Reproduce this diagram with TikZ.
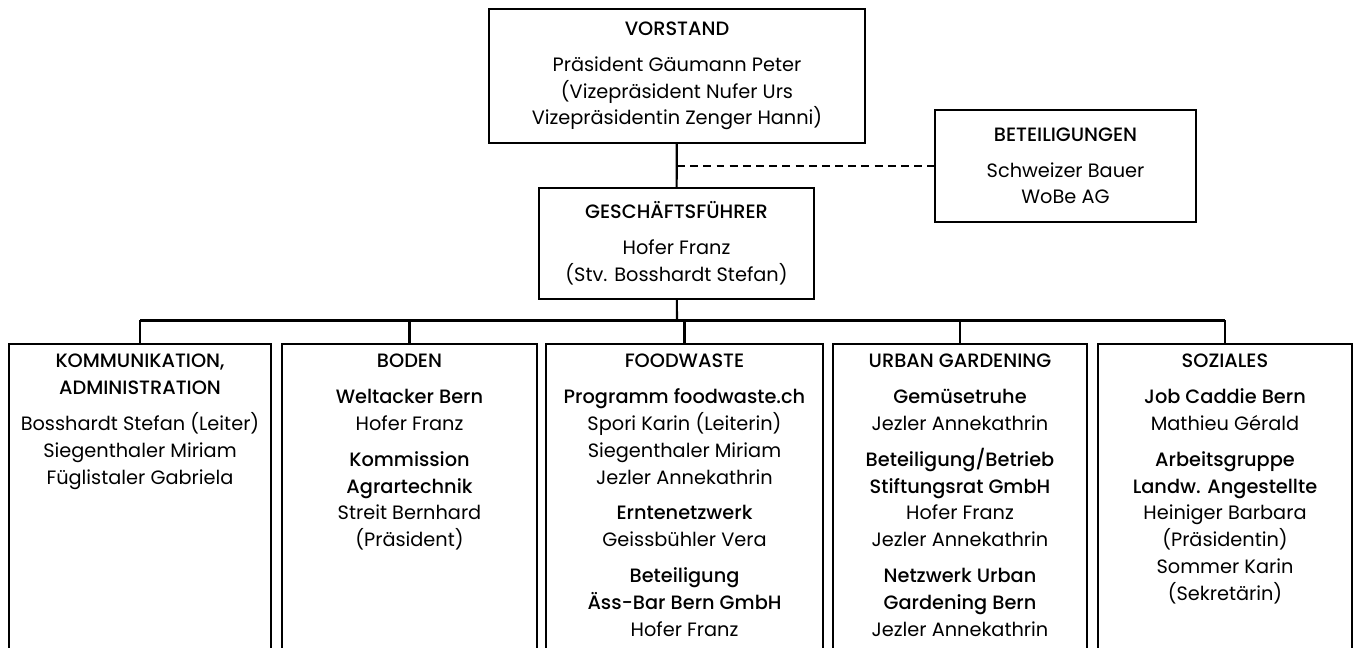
\documentclass[tikz,border=0pt]{standalone}
\usepackage{fontspec}
\setmainfont{Poppins}[BoldFont={Poppins Medium}]
\usetikzlibrary{positioning}

\begin{document}
\begin{tikzpicture}[x=0.02cm,y=-0.02cm,
  box/.style={draw,rectangle,line width=1.2pt,inner sep=0pt},
  txt/.style={align=center,inner sep=0pt,font=\fontsize{11}{15.3}\selectfont},
  line/.style={line width=1.2pt}]
\def\gap{5pt}
\useasboundingbox (0,0) rectangle (1357,648);
\clip (0,0) rectangle (1357,648);

%top
\node[box,txt,minimum width=7.52cm,minimum height=2.68cm] (vorstand) at (677,76)
  {\textbf{VORSTAND}\\[\gap]
   Präsident Gäumann Peter\\
   (Vizepräsident Nufer Urs\\
   Vizepräsidentin Zenger Hanni)};
\node[box,txt,minimum width=5.5cm,minimum height=2.22cm] (gf) at (676.5,243.5)
  {\textbf{GESCHÄFTSFÜHRER}\\[\gap]
   Hofer Franz\\
   (Stv. Bosshardt Stefan)};
\node[box,txt,minimum width=5.22cm,minimum height=2.24cm] (bet) at (1065.5,166)
  {\textbf{BETEILIGUNGEN}\\[\gap]
   Schweizer Bauer\\
   WoBe AG};

%bottom boxes
\node[box,minimum width=5.24cm,minimum height=8cm,anchor=north] (kom) at (140,343) {};
\node[box,minimum width=5.1cm,minimum height=8cm,anchor=north] (boden) at (409.5,343) {};
\node[box,minimum width=5.54cm,minimum height=8cm,anchor=north] (food) at (684.5,343) {};
\node[box,minimum width=5.08cm,minimum height=8cm,anchor=north] (urban) at (960,343) {};
\node[box,minimum width=5.08cm,minimum height=8cm,anchor=north] (sozial) at (1225,343) {};

%texts
\node[txt,anchor=north,below=0.22cm of kom.north] (komtxt)
  {\textbf{KOMMUNIKATION,}\\
   \textbf{ADMINISTRATION}\\[\gap]
   Bosshardt Stefan (Leiter)\\
   Siegenthaler Miriam\\
   Füglistaler Gabriela};
\node[txt,anchor=north,below=0.22cm of boden.north] (bodentxt)
  {\textbf{BODEN}\\[\gap]
   \textbf{Weltacker Bern}\\
   Hofer Franz\\[\gap]
   \textbf{Kommission}\\
   \textbf{Agrartechnik}\\
   Streit Bernhard\\
   (Präsident)};
\node[txt,anchor=north,below=0.22cm of food.north] (foodtxt)
  {\textbf{FOODWASTE}\\[\gap]
   \textbf{Programm foodwaste.ch}\\
   Spori Karin (Leiterin)\\
   Siegenthaler Miriam\\
   Jezler Annekathrin\\[\gap]
   \textbf{Erntenetzwerk}\\
   Geissbühler Vera\\[\gap]
   \textbf{Beteiligung}\\
   \textbf{Äss-Bar Bern GmbH}\\
   Hofer Franz};
\node[txt,anchor=north,below=0.22cm of urban.north] (urbantxt)
  {\textbf{URBAN GARDENING}\\[\gap]
   \textbf{Gemüsetruhe}\\
   Jezler Annekathrin\\[\gap]
   \textbf{Beteiligung/Betrieb}\\
   \textbf{Stiftungsrat GmbH}\\
   Hofer Franz\\
   Jezler Annekathrin\\[\gap]
   \textbf{Netzwerk Urban}\\
   \textbf{Gardening Bern}\\
   Jezler Annekathrin};
\node[txt,anchor=north,below=0.22cm of sozial.north] (sozialtxt)
  {\textbf{SOZIALES}\\[\gap]
   \textbf{Job Caddie Bern}\\
   Mathieu Gérald\\[\gap]
   \textbf{Arbeitsgruppe}\\
   \textbf{Landw. Angestellte}\\
   Heiniger Barbara\\
   (Präsidentin)\\
   Sommer Karin\\
   (Sekretärin)};

%connectors
\coordinate (bus) at (677,320.5);
\draw[line] (vorstand) -- (gf);
\draw[line,dash pattern=on 4.5pt off 3pt] (vorstand.south |- bet.west) -- (bet.west);
\draw[line] (gf) -- (bus);
\draw[line] (bus -| kom.north) -- (bus -| sozial.north);
\foreach \b in {kom,boden,food,urban,sozial}
  \draw[line] (bus -| \b.north) -- (\b.north);
\end{tikzpicture}
\end{document}
